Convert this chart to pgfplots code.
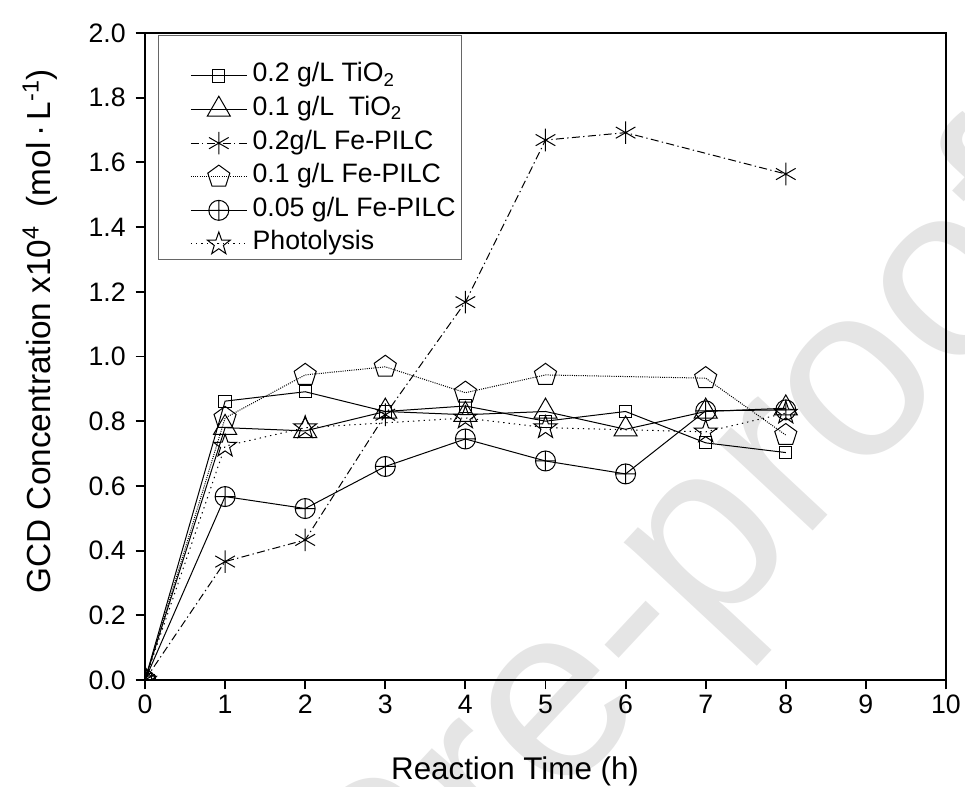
\documentclass[border=0pt]{standalone}
\usepackage{fontspec}
\setmainfont{Liberation Sans}
\usepackage{pgfplots}
\pgfplotsset{compat=1.18}

\definecolor{wmark}{gray}{0.9}

% open five-pointed star
\pgfdeclareplotmark{ostar}{%
  \pgfpathmoveto{\pgfpointpolar{90}{\pgfplotmarksize}}%
  \pgfpathlineto{\pgfpointpolar{126}{0.40\pgfplotmarksize}}%
  \pgfpathlineto{\pgfpointpolar{162}{\pgfplotmarksize}}%
  \pgfpathlineto{\pgfpointpolar{198}{0.40\pgfplotmarksize}}%
  \pgfpathlineto{\pgfpointpolar{234}{\pgfplotmarksize}}%
  \pgfpathlineto{\pgfpointpolar{270}{0.40\pgfplotmarksize}}%
  \pgfpathlineto{\pgfpointpolar{306}{\pgfplotmarksize}}%
  \pgfpathlineto{\pgfpointpolar{342}{0.40\pgfplotmarksize}}%
  \pgfpathlineto{\pgfpointpolar{18}{\pgfplotmarksize}}%
  \pgfpathlineto{\pgfpointpolar{54}{0.40\pgfplotmarksize}}%
  \pgfpathclose
  \pgfusepathqstroke}

\begin{document}
\begin{tikzpicture}
% faint watermark behind everything
\node[anchor=base, rotate=47, text=wmark, inner sep=0pt,
      font=\fontsize{185}{195}\selectfont] at (223pt,-187pt) {Journal Pre-proof};

\begin{axis}[
  scale only axis,
  width=600.75pt, height=485.25pt,
  xmin=0, xmax=10, ymin=0, ymax=2,
  xtick={0,1,...,10},
  ytick={0,0.2,...,2.0},
  /pgf/number format/assume math mode=true,
  tick label style={font=\fontsize{20}{24}\selectfont},
  yticklabel style={/pgf/number format/fixed, /pgf/number format/fixed zerofill,
    /pgf/number format/precision=1, xshift=-4pt},
  xticklabel style={yshift=-1pt},
  xlabel style={font=\fontsize{23.5}{28}\selectfont},
  ylabel style={font=\fontsize{25}{30}\selectfont},
  tick align=outside, tick pos=left,
  major tick length=7pt,
  every tick/.style={black, line width=1.4pt},
  axis line style={line width=1.4pt},
  clip marker paths=true,
  xlabel={Reaction Time (h)},
  ylabel={GCD Concentration x10\textsuperscript{4}\ \ (mol\,·\,L\textsuperscript{-1})},
  xlabel style={at={(axis description cs:0.462,-0.141)}, anchor=center},
  ylabel style={at={(axis description cs:-0.131,0.539)}, anchor=center, rotate=0},
  every axis plot/.append style={black, line width=0.75pt},
  legend image code/.code={
    \path (-22pt,0pt) (44pt,0pt);
    \draw[mark repeat=2,mark phase=2,#1] plot coordinates {(0pt,0pt) (21pt,0pt) (42pt,0pt)};
  },
  legend style={at={(axis description cs:0.016,0.997)}, anchor=north west,
    draw=black!60, line width=0.75pt,
    font=\fontsize{20}{24}\selectfont,
    inner xsep=2pt, inner ysep=1pt, row sep=4.2pt,
    nodes={inner ysep=1pt, inner xsep=2pt, text height=14pt, text depth=5pt}},
  legend cell align=left,
]
\addplot[solid, mark=square, mark size=4.6pt, mark options={solid},
  legend image code/.code={
    \path (-22pt,29pt) (44pt,0pt);
    \draw[mark repeat=2,mark phase=2,##1] plot coordinates {(0pt,0pt) (21pt,0pt) (42pt,0pt)};
  }] coordinates {
  (0,0) (1,0.862) (2,0.891) (3,0.83) (4,0.847) (5,0.80) (6,0.83) (7,0.733) (8,0.703)};
\addlegendentry{0.2 g/L TiO\textsubscript{2}}

\addplot[solid, mark=triangle, mark size=10pt, mark options={solid}] coordinates {
  (0,0) (1,0.78) (2,0.77) (3,0.83) (4,0.82) (5,0.83) (6,0.775) (7,0.83) (8,0.84)};
\addlegendentry{0.1 g/L\ \ TiO\textsubscript{2}}

\addplot[dash pattern=on 6pt off 2.5pt on 1pt off 2.5pt, mark=asterisk, mark size=8.5pt, mark options={solid}] coordinates {
  (0,0) (1,0.366) (2,0.433) (3,0.82) (4,1.168) (5,1.669) (6,1.692) (8,1.564)};
\addlegendentry{0.2g/L Fe-PILC}

\addplot[dash pattern=on 0.75pt off 0.9pt, mark=pentagon, mark size=8.7pt, mark options={solid, black}] coordinates {
  (0,0) (1,0.81) (2,0.943) (3,0.968) (4,0.888) (5,0.943) (7,0.933) (8,0.757)};
\addlegendentry{0.1 g/L Fe-PILC}

\addplot[solid, mark=oplus, mark size=7.5pt, mark options={solid}] coordinates {
  (0,0) (1,0.567) (2,0.53) (3,0.66) (4,0.745) (5,0.677) (6,0.637) (7,0.832) (8,0.835)};
\addlegendentry{0.05 g/L Fe-PILC}

\addplot[dash pattern=on 1pt off 3pt, mark=ostar, mark size=9pt, mark options={solid}] coordinates {
  (0,0) (1,0.723) (2,0.78) (4,0.81) (5,0.78) (7,0.767) (8,0.825)};
\addlegendentry{Photolysis}
\end{axis}

\pgfresetboundingbox
\path[use as bounding box] (-108.75pt,-80.25pt) rectangle (615pt,510pt);
\end{tikzpicture}
\end{document}
